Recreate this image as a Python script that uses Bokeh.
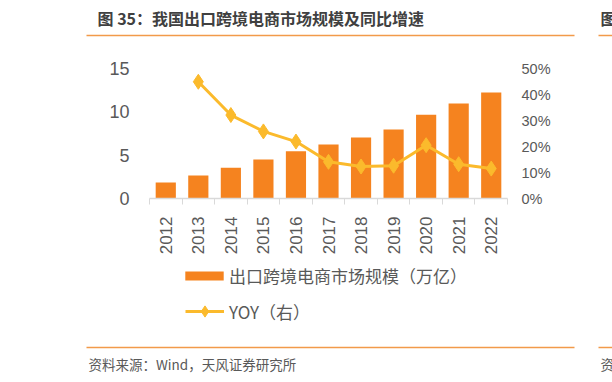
import math
from bokeh.plotting import figure
from bokeh.layouts import column
from bokeh.models import (Range1d, LinearAxis, FixedTicker, CustomJSTickFormatter,
                          PrintfTickFormatter, Legend, LegendItem, Label, BoxAnnotation)
from bokeh.embed import file_html
from bokeh.resources import INLINE

# ---- data ----
years = ["2012", "2013", "2014", "2015", "2016", "2017", "2018", "2019", "2020", "2021", "2022"]
scale = [1.85, 2.65, 3.54, 4.5, 5.46, 6.23, 7.04, 7.96, 9.65, 10.96, 12.23]   # 万亿
yoy_years = ["2013", "2014", "2015", "2016", "2017", "2018", "2019", "2020", "2021", "2022"]
yoy = [44.9, 32.1, 25.8, 21.9, 14.1, 12.3, 12.6, 20.5, 13.2, 11.5]            # %
left_ticks = [0, 5, 10, 15]
right_ticks = [0, 10, 20, 30, 40, 50]

title_text = "图 35：我国出口跨境电商市场规模及同比增速"
source_text = "资料来源：Wind，天风证券研究所"
bar_name = "出口跨境电商市场规模（万亿）"
line_name = "YOY（右）"

BAR = "#F5831F"
LINE = "#FBBA2C"
RULE = "#F29A4A"
TXT = "#595959"
CJK = "Noto Sans CJK SC"
NUM = "Liberation Sans"

W = 612
H_HEAD = 45
H_MAIN = 213
H_FOOT = 124


def blank(height, y_top):
    f = figure(width=W, height=height, output_backend="svg", toolbar_location=None,
               x_range=Range1d(0, W), y_range=Range1d(y_top + height, y_top),
               min_border=0, x_axis_location=None, y_axis_location=None,
               outline_line_color=None, background_fill_color="white",
               border_fill_color="white", frame_align=False)
    f.xgrid.visible = False
    f.ygrid.visible = False
    return f


def rule(f, x0, x1, y):
    f.add_layout(BoxAnnotation(left=x0, right=x1, bottom=y + 0.8, top=y - 0.8,
                               fill_color=RULE, fill_alpha=1, line_color=None))


# ---- header ----
head = blank(H_HEAD, 0)
head.add_layout(Label(x=97, y=17, text=title_text, text_font=CJK, text_font_size="16px",
                      text_font_style="bold", text_color="#404040", text_baseline="middle"))
head.add_layout(Label(x=600, y=17, text="图", text_font=CJK, text_font_size="16px",
                      text_font_style="bold", text_color="#404040", text_baseline="middle"))
rule(head, 86, 574, 35)
rule(head, 598, 612, 35)

# ---- main chart ----
xc = [years.index(y) + 0.5 for y in years]
xl = [years.index(y) + 0.5 for y in yoy_years]

p = figure(width=W, height=H_MAIN, output_backend="svg", toolbar_location=None,
           x_range=Range1d(0, len(years)), y_range=Range1d(left_ticks[0], left_ticks[-1]),
           min_border_left=149, min_border_right=105, min_border_top=23, min_border_bottom=60,
           outline_line_color=None, background_fill_color="white", border_fill_color="white",
           frame_align=False)
p.xgrid.visible = False
p.ygrid.visible = False
p.extra_y_ranges = {"pct": Range1d(right_ticks[0], right_ticks[-1])}

bars = p.vbar(x=xc, top=scale, width=0.62, fill_color=BAR, line_color=None)
ln = p.line(x=xl, y=yoy, y_range_name="pct", line_width=3, line_color=LINE)
mk = p.scatter(x=xl, y=yoy, y_range_name="pct", marker="diamond", size=15,
               fill_color=LINE, line_color=LINE)

xa = p.xaxis[0]
xa.ticker = FixedTicker(ticks=xc, minor_ticks=list(range(len(years) + 1)))
xa.formatter = CustomJSTickFormatter(args=dict(labels=years),
                                     code="return labels[Math.floor(tick)];")
xa.major_tick_line_color = None
xa.major_tick_out = 0
xa.major_tick_in = 0
xa.minor_tick_in = 0
xa.minor_tick_out = 6
xa.minor_tick_line_color = "#D9D9D9"
xa.axis_line_color = "#D9D9D9"
xa.axis_line_width = 1.5
xa.major_label_orientation = math.pi / 2
xa.major_label_standoff = 12
xa.major_label_text_font = NUM
xa.major_label_text_font_size = "17px"
xa.major_label_text_color = TXT

ya = p.yaxis[0]
ya.ticker = FixedTicker(ticks=left_ticks)
ya.axis_line_color = None
ya.major_tick_line_color = None
ya.minor_tick_line_color = None
ya.major_tick_out = 0
ya.major_label_standoff = 20
ya.major_label_text_font = NUM
ya.major_label_text_font_size = "18px"
ya.major_label_text_color = TXT

ra = LinearAxis(y_range_name="pct", ticker=FixedTicker(ticks=right_ticks),
                formatter=PrintfTickFormatter(format="%d%%"))
ra.axis_line_color = None
ra.major_tick_line_color = None
ra.minor_tick_line_color = None
ra.major_tick_out = 0
ra.major_label_standoff = 14
ra.major_label_text_font = NUM
ra.major_label_text_font_size = "14.5px"
ra.major_label_text_color = TXT
p.add_layout(ra, "right")

# ---- footer: legend + source ----
# legend swatch renderers share the chart data but sit on ranges that keep them out of view
foot = blank(H_FOOT, H_MAIN + H_HEAD)
foot.extra_x_ranges = {"off": Range1d(1000, 2000)}
foot.extra_y_ranges = {"off": Range1d(1000, 2000)}
lb = foot.vbar(x=xc, top=scale, width=0.62, fill_color=BAR, line_color=None,
               x_range_name="off", y_range_name="off")
ll = foot.line(x=xl, y=yoy, line_width=3, line_color=LINE,
               x_range_name="off", y_range_name="off")
lm = foot.scatter(x=xl, y=yoy, marker="diamond", size=15, fill_color=LINE, line_color=LINE,
                  x_range_name="off", y_range_name="off")

common = dict(padding=0, margin=0, spacing=0, border_line_color=None,
              background_fill_alpha=0, label_text_font=CJK, label_text_font_size="17px",
              label_text_color=TXT, label_height=20)
leg1 = Legend(items=[LegendItem(label=bar_name, renderers=[lb])], location=(180, 94),
              glyph_width=48, glyph_height=11, label_standoff=1, **common)
leg2 = Legend(items=[LegendItem(label=line_name, renderers=[ll, lm])], location=(185, 57),
              glyph_width=39, glyph_height=28, label_standoff=5, **common)
foot.add_layout(leg1)
foot.add_layout(leg2)

rule(foot, 86, 574, 347)
rule(foot, 598, 612, 347)
foot.add_layout(Label(x=88, y=363, text=source_text, text_font=CJK, text_font_size="13.5px",
                      text_color=TXT, text_baseline="middle"))
foot.add_layout(Label(x=600, y=363, text="资", text_font=CJK, text_font_size="13.5px",
                      text_color=TXT, text_baseline="middle"))

layout = column(head, p, foot, spacing=0)
open("out.html", "w").write(file_html(layout, INLINE))
